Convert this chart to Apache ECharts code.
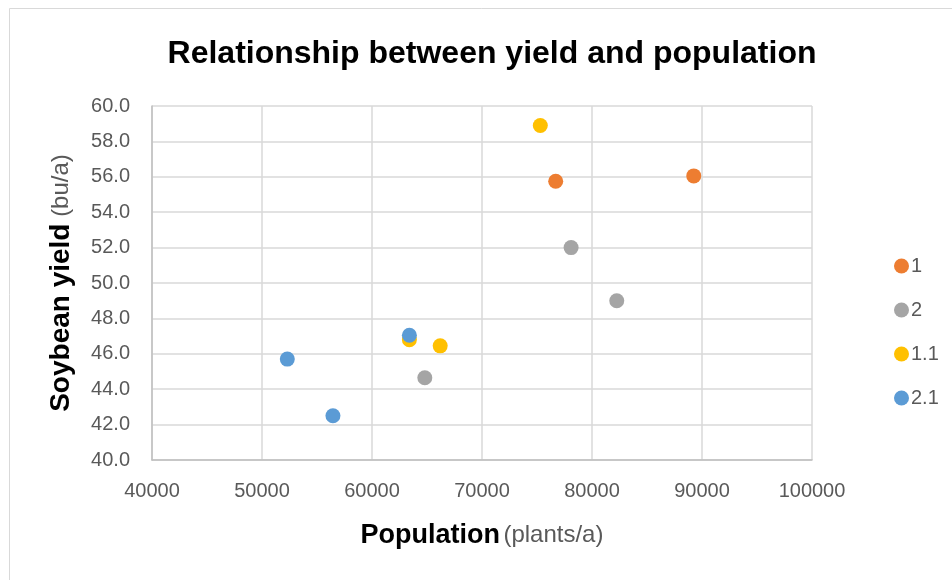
<!DOCTYPE html>
<html>
<head>
<meta charset="utf-8">
<script src="https://cdn.jsdelivr.net/npm/echarts@6/dist/echarts.min.js"></script>
<style>html,body{margin:0;padding:0;background:#fff;}#c{width:952px;height:580px;}</style>
</head>
<body>
<div id="c"></div>
<script>
const seriesNames = ['1', '2', '1.1', '2.1'];
const seriesColors = ['#ED7D31', '#A5A5A5', '#FFC000', '#5B9BD5'];
const pop1 = [76700, 89250];
const yield1 = [55.75, 56.05];
const pop2 = [78100, 82250, 64800];
const yield2 = [52.0, 49.0, 44.65];
const pop11 = [75300, 63400, 66200];
const yield11 = [58.9, 46.8, 46.45];
const pop21 = [52300, 56450, 63400];
const yield21 = [45.7, 42.5, 47.05];

const xs = [pop1, pop2, pop11, pop21];
const ys = [yield1, yield2, yield11, yield21];
const FONT = 'Liberation Sans';

const chart = echarts.init(document.getElementById('c'), null, {renderer: 'canvas'});
chart.setOption({
  backgroundColor: '#fff',
  animation: false,
  graphic: [{
    type: 'rect', left: 7, top: 6,
    shape: {width: 1000, height: 1000},
    style: {fill: 'none', stroke: '#D9D9D9', lineWidth: 1}
  }],
  title: {
    text: 'Relationship between yield and population',
    left: 487, top: 33, textAlign: 'center',
    textStyle: {fontFamily: FONT, fontWeight: 'bold', fontSize: 32, color: '#000'}
  },
  legend: {
    orient: 'vertical', left: 889, top: 251,
    itemWidth: 15, itemHeight: 15, itemGap: 24,
    icon: 'circle',
    data: seriesNames,
    textStyle: {fontFamily: FONT, fontSize: 20, color: '#595959', lineHeight: 20, padding: [0, 0, 0, -3]}
  },
  grid: {left: 152, right: 140, top: 106, bottom: 120},
  xAxis: {
    type: 'value', min: 40000, max: 100000, interval: 10000,
    name: '{b|Population} {n|(plants/a)}',
    nameLocation: 'middle', nameGap: 62,
    nameTextStyle: {rich: {
      b: {fontFamily: FONT, fontWeight: 'bold', fontSize: 27, color: '#000'},
      n: {fontFamily: FONT, fontSize: 24, color: '#595959'}
    }},
    axisLine: {show: true, lineStyle: {color: '#BFBFBF', width: 1.5}},
    axisTick: {show: false},
    splitLine: {show: true, lineStyle: {color: '#D9D9D9', width: 1.5}},
    axisLabel: {fontFamily: FONT, fontSize: 20, color: '#595959', margin: 21,
      formatter: v => String(v)}
  },
  yAxis: {
    type: 'value', min: 40, max: 60, interval: 2,
    name: '{b|Soybean yield}  {n|(bu/a)}',
    nameLocation: 'middle', nameGap: 77, nameRotate: 90,
    nameTextStyle: {rich: {
      b: {fontFamily: FONT, fontWeight: 'bold', fontSize: 28, color: '#000'},
      n: {fontFamily: FONT, fontSize: 24, color: '#595959'}
    }},
    axisLine: {show: true, lineStyle: {color: '#BFBFBF', width: 1.5}},
    axisTick: {show: false},
    splitLine: {show: true, lineStyle: {color: '#D9D9D9', width: 1.5}},
    axisLabel: {fontFamily: FONT, fontSize: 20, color: '#595959', margin: 22,
      formatter: v => v.toFixed(1)}
  },
  series: seriesNames.map((n, i) => ({
    name: n, type: 'scatter', symbol: 'circle', symbolSize: 15,
    itemStyle: {color: seriesColors[i], opacity: 1},
    data: xs[i].map((x, j) => [x, ys[i][j]])
  }))
});
</script>
</body>
</html>
